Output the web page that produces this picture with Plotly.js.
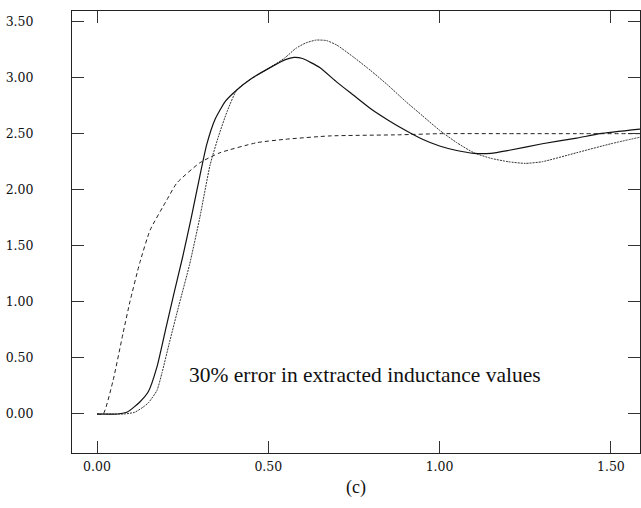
<!DOCTYPE html>
<html>
<head>
<meta charset="utf-8">
<script src="https://cdn.plot.ly/plotly-3.0.1.min.js"></script>
<style>
html,body{margin:0;padding:0;background:#fff;}
#chart{width:641px;height:508px;}
</style>
</head>
<body>
<div id="chart"></div>
<script>
// Solid curve
const solidX = [0, 0.06, 0.09, 0.125, 0.15, 0.175, 0.2, 0.225, 0.25, 0.275, 0.3, 0.32, 0.345, 0.375, 0.408, 0.45, 0.5, 0.55, 0.575, 0.6, 0.65, 0.7, 0.75, 0.8, 0.85, 0.9, 0.95, 1.0, 1.05, 1.1, 1.15, 1.2, 1.3, 1.4, 1.468, 1.585];
const solidY = [0, 0, 0.02, 0.107, 0.2, 0.42, 0.75, 1.08, 1.40, 1.75, 2.12, 2.40, 2.63, 2.79, 2.89, 2.99, 3.08, 3.16, 3.18, 3.17, 3.09, 2.96, 2.84, 2.72, 2.62, 2.53, 2.45, 2.39, 2.35, 2.325, 2.325, 2.35, 2.41, 2.46, 2.50, 2.54];
// Fine-dotted curve
const dotX = [0, 0.08, 0.11, 0.134, 0.15, 0.175, 0.19, 0.21, 0.24, 0.27, 0.3, 0.33, 0.355, 0.38, 0.408, 0.45, 0.5, 0.55, 0.58, 0.61, 0.64, 0.67, 0.7, 0.75, 0.8, 0.85, 0.9, 0.95, 1.0, 1.05, 1.1, 1.15, 1.2, 1.25, 1.3, 1.4, 1.5, 1.587];
const dotY = [0, 0, 0.015, 0.06, 0.1, 0.21, 0.37, 0.62, 0.98, 1.33, 1.75, 2.22, 2.48, 2.70, 2.89, 2.99, 3.08, 3.18, 3.26, 3.31, 3.335, 3.33, 3.29, 3.18, 3.06, 2.93, 2.79, 2.66, 2.53, 2.42, 2.33, 2.28, 2.25, 2.235, 2.25, 2.33, 2.41, 2.47];
// Dashed curve
const dashX = [0, 0.018, 0.047, 0.076, 0.096, 0.125, 0.155, 0.204, 0.233, 0.30, 0.359, 0.467, 0.55, 0.68, 0.884, 1.0, 1.2, 1.4, 1.585];
const dashY = [0, 0, 0.30, 0.72, 1.0, 1.35, 1.64, 1.91, 2.06, 2.24, 2.33, 2.42, 2.45, 2.48, 2.49, 2.50, 2.50, 2.50, 2.50];
// Ticks
const xTicks = [0, 0.5, 1.0, 1.5];
const xTickText = ["0.00", "0.50", "1.00", "1.50"];
const yTicks = [0, 0.5, 1.0, 1.5, 2.0, 2.5, 3.0, 3.5];
const yTickText = ["0.00", "0.50", "1.00", "1.50", "2.00", "2.50", "3.00", "3.50"];
const noteText = "30% error in extracted inductance values";
const xLabel = "(c)";

const traces = [
  {x: dashX, y: dashY, mode: 'lines', line: {color: '#222', width: 1, dash: '4px,3px', shape: 'spline', smoothing: 0.5}, hoverinfo: 'skip'},
  {x: dotX, y: dotY, mode: 'lines', line: {color: '#333', width: 1, dash: '2px,1px', shape: 'spline', smoothing: 0.5}, hoverinfo: 'skip'},
  {x: solidX, y: solidY, mode: 'lines', line: {color: '#111', width: 1.2, shape: 'spline', smoothing: 0.5}, hoverinfo: 'skip'}
];

const serif = "'Liberation Serif', 'Times New Roman', serif";
const tickFont = {family: "'DejaVu Serif', serif", size: 12.5, color: '#111'};
const layout = {
  width: 641, height: 508,
  margin: {l: 72, r: 1, t: 11, b: 55, pad: 0},
  paper_bgcolor: '#fff', plot_bgcolor: '#fff',
  showlegend: false,
  xaxis: {
    range: [-0.073, 1.585], tickvals: xTicks, ticktext: xTickText,
    ticks: 'inside', ticklen: 12, tickcolor: '#333', tickwidth: 1,
    showline: true, linecolor: '#222', linewidth: 1, mirror: 'ticks',
    showgrid: false, zeroline: false, tickfont: tickFont, ticklabelstandoff: 2,
    title: {text: xLabel, font: {family: serif, size: 18, color: '#111'}, standoff: 7}
  },
  yaxis: {
    range: [-0.348, 3.594], tickvals: yTicks, ticktext: yTickText,
    ticks: 'inside', ticklen: 12, tickcolor: '#333', tickwidth: 1,
    showline: true, linecolor: '#222', linewidth: 1, mirror: 'ticks',
    showgrid: false, zeroline: false, tickfont: tickFont, ticklabelstandoff: 35
  },
  annotations: [{
    x: 0.781, y: 0.348, xref: 'x', yref: 'y', text: noteText, showarrow: false,
    font: {family: serif, size: 21.5, color: '#111'}
  }]
};
Plotly.newPlot('chart', traces, layout, {staticPlot: true, displayModeBar: false});
</script>
</body>
</html>
